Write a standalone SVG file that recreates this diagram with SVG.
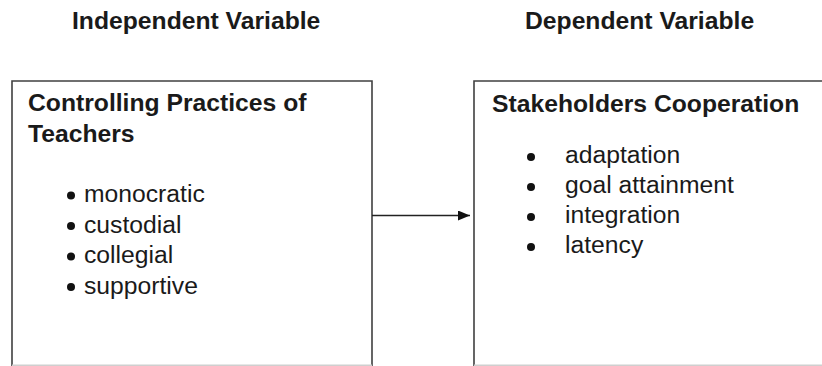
<svg xmlns="http://www.w3.org/2000/svg" width="822" height="366" viewBox="0 0 822 366">
<defs>
<style>
text { font-family: "Liberation Sans", Arial, sans-serif; font-size: 24.7px; fill: #1a1a1a; }
.b { font-weight: bold; }
.box { fill: #ffffff; stroke: #404040; stroke-width: 1.6; }
.bottom { stroke: #cfcfcf; stroke-width: 1.5; }
.dot { fill: #111111; }
.conn { stroke: #222222; stroke-width: 1.6; fill: none; }
</style>
<marker id="arrow" markerWidth="12" markerHeight="10" refX="12" refY="5" orient="auto" markerUnits="userSpaceOnUse">
<path d="M0,0 L12,5 L0,10 Z" fill="#111111"/>
</marker>
</defs>
<rect width="822" height="366" fill="#ffffff"/>
<g id="headings">
<text class="b" x="72" y="29">Independent Variable</text>
<text class="b" x="525" y="29">Dependent Variable</text>
</g>
<g id="node-independent">
<path class="box" d="M12,368 L12,81 L372,81 L372,368"/>
<line class="bottom" x1="12" y1="365.2" x2="372" y2="365.2"/>
<text class="b" x="28" y="111">Controlling Practices of</text>
<text class="b" x="28" y="142">Teachers</text>
<circle class="dot" cx="71" cy="195.5" r="4"/>
<text x="84" y="202">monocratic</text>
<circle class="dot" cx="71" cy="226" r="4"/>
<text x="84" y="232.5">custodial</text>
<circle class="dot" cx="71" cy="256.5" r="4"/>
<text x="84" y="263">collegial</text>
<circle class="dot" cx="71" cy="287" r="4"/>
<text x="84" y="293.5">supportive</text>
</g>
<g id="node-dependent">
<path class="box" d="M826,81 L474,81 L474,368"/>
<line class="bottom" x1="474" y1="365.2" x2="822" y2="365.2"/>
<text class="b" x="492" y="112">Stakeholders Cooperation</text>
<circle class="dot" cx="531" cy="157" r="4"/>
<text x="565" y="163">adaptation</text>
<circle class="dot" cx="531" cy="187" r="4"/>
<text x="565" y="193">goal attainment</text>
<circle class="dot" cx="531" cy="217" r="4"/>
<text x="565" y="223">integration</text>
<circle class="dot" cx="531" cy="247" r="4"/>
<text x="565" y="253">latency</text>
</g>
<g id="connectors">
<line class="conn" x1="372" y1="215.5" x2="470" y2="215.5" marker-end="url(#arrow)"/>
</g>
</svg>
